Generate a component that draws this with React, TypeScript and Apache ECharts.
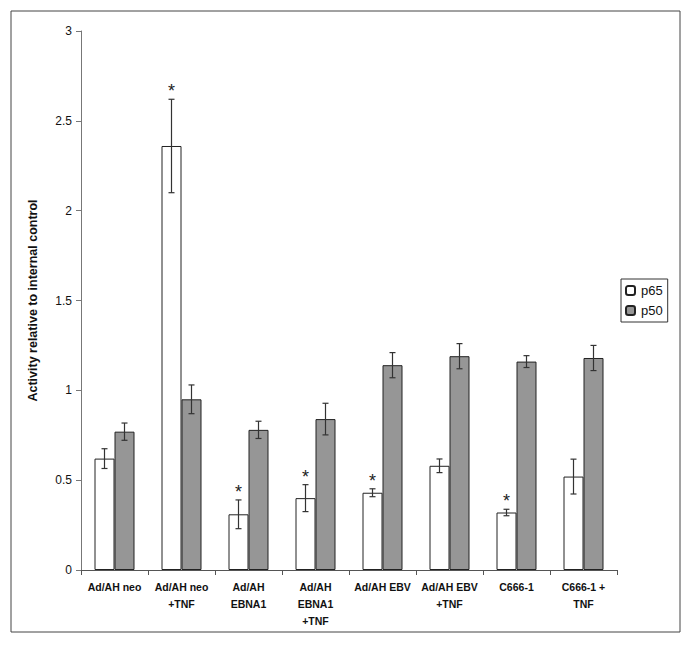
import React, { useEffect, useRef } from "react";
import * as echarts from "echarts";

const categories = [
  "Ad/AH neo",
  "Ad/AH neo\n+TNF",
  "Ad/AH\nEBNA1",
  "Ad/AH\nEBNA1\n+TNF",
  "Ad/AH EBV",
  "Ad/AH EBV\n+TNF",
  "C666-1",
  "C666-1 +\nTNF",
];
const p65 = [0.62, 2.36, 0.31, 0.4, 0.43, 0.58, 0.32, 0.52];
const p65Err = [0.055, 0.26, 0.08, 0.075, 0.022, 0.038, 0.018, 0.097];
const p65Sig = [false, true, true, true, true, false, true, false];
const p50 = [0.77, 0.95, 0.78, 0.84, 1.14, 1.19, 1.16, 1.18];
const p50Err = [0.048, 0.08, 0.048, 0.088, 0.07, 0.07, 0.033, 0.07];
const yTicks = [0, 0.5, 1, 1.5, 2, 2.5, 3];

const FONT = "'Liberation Sans', Arial, sans-serif";
const BAR_W = 20;

function errSeries(name: string, vals: number[], errs: number[], sig: boolean[] | null, offset: number) {
  return {
    type: "custom",
    name: name + "-err",
    z: 5,
    silent: true,
    data: vals.map((v, i) => [i, v, errs[i], sig && sig[i] ? 1 : 0]),
    renderItem: (params: any, api: any) => {
      const idx = api.value(0);
      const v = api.value(1);
      const e = api.value(2);
      const s = api.value(3);
      const top = api.coord([idx, v + e]);
      const bot = api.coord([idx, v - e]);
      const x = top[0] + offset;
      const cap = 3;
      const lineStyle = { stroke: "#333", lineWidth: 1.2 };
      const children: any[] = [
        { type: "line", shape: { x1: x, y1: top[1], x2: x, y2: bot[1] }, style: lineStyle },
        { type: "line", shape: { x1: x - cap, y1: top[1], x2: x + cap, y2: top[1] }, style: lineStyle },
        { type: "line", shape: { x1: x - cap, y1: bot[1], x2: x + cap, y2: bot[1] }, style: lineStyle },
      ];
      if (s) {
        children.push({
          type: "text",
          x: x,
          y: top[1] + 1,
          style: {
            text: "*",
            fontSize: 18,
            fontFamily: FONT,
            fill: "#222",
            align: "center",
            verticalAlign: "bottom",
          },
        });
      }
      return { type: "group", children };
    },
  };
}

export default function App() {
  const ref = useRef<HTMLDivElement>(null);
  useEffect(() => {
    if (!ref.current) return;
    const chart = echarts.init(ref.current, null, { renderer: "svg" });
    chart.setOption({
      animation: false,
      backgroundColor: "#fff",
      textStyle: { fontFamily: FONT },
      graphic: [
        {
          type: "rect",
          shape: { x: 11, y: 11, width: 669, height: 621 },
          style: { fill: "none", stroke: "#444", lineWidth: 1 },
          silent: true,
        },
      ],
      legend: {
        left: 621,
        top: 279,
        orient: "vertical",
        data: ["p65", "p50"],
        itemWidth: 9,
        itemHeight: 9,
        itemGap: 7,
        padding: [5, 5, 5, 4],
        borderColor: "#333",
        borderWidth: 1,
        textStyle: { fontFamily: FONT, fontSize: 13, color: "#111", padding: [0, 0, 0, 1] },
      },
      grid: { left: 81, right: 68, top: 31, bottom: 75 },
      xAxis: {
        type: "category",
        data: categories,
        axisLine: { lineStyle: { color: "#555", width: 1 } },
        axisTick: { show: true, inside: false, length: 5, alignWithLabel: false, lineStyle: { color: "#555" } },
        axisLabel: {
          interval: 0,
          fontFamily: FONT,
          fontSize: 10.5,
          fontWeight: "bold",
          color: "#111",
          lineHeight: 17,
          margin: 8,
        },
      },
      yAxis: {
        type: "value",
        min: 0,
        max: 3,
        interval: 0.5,
        name: "Activity relative to internal control",
        nameLocation: "middle",
        nameGap: 42,
        nameTextStyle: { fontFamily: FONT, fontSize: 12.5, fontWeight: "bold", color: "#111" },
        axisLine: { show: true, lineStyle: { color: "#777", width: 1 } },
        axisTick: { show: true, inside: false, length: 5, lineStyle: { color: "#777" } },
        splitLine: { show: false },
        axisLabel: {
          fontFamily: FONT,
          fontSize: 12,
          color: "#111",
          margin: 9,
          formatter: (v: number) => (yTicks.includes(v) ? String(v) : ""),
        },
      },
      series: [
        {
          type: "bar",
          name: "p65",
          data: p65,
          barWidth: BAR_W,
          barGap: "0%",
          itemStyle: { color: "#ffffff", borderColor: "#222", borderWidth: 1 },
        },
        {
          type: "bar",
          name: "p50",
          data: p50,
          barWidth: BAR_W,
          barGap: "0%",
          itemStyle: { color: "#969696", borderColor: "#222", borderWidth: 1 },
        },
        errSeries("p65", p65, p65Err, p65Sig, -BAR_W / 2),
        errSeries("p50", p50, p50Err, null, BAR_W / 2),
      ],
    });
    return () => chart.dispose();
  }, []);
  return (
    <div
      ref={ref}
      style={{ position: "fixed", left: 0, top: 0, width: 685, height: 645, background: "#fff" }}
    />
  );
}
